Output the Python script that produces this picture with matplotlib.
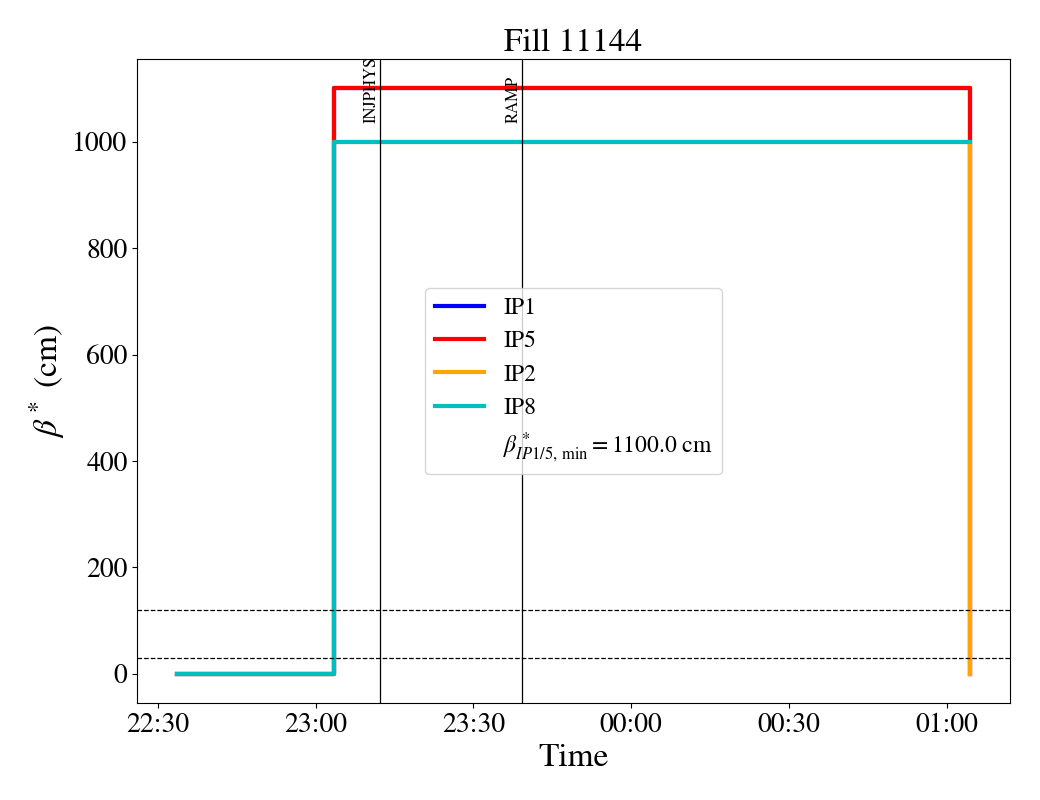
import datetime as dt
import matplotlib
matplotlib.use("Agg")
import matplotlib.pyplot as plt
import matplotlib.dates as mdates

plt.rcParams['font.family'] = 'STIXGeneral'
plt.rcParams['mathtext.fontset'] = 'stix'

fill = 11144
day = dt.datetime(2025, 9, 1)
times = [day + dt.timedelta(hours=22, minutes=33, seconds=40),
         day + dt.timedelta(hours=23, minutes=3, seconds=30),
         day + dt.timedelta(days=1, hours=1, minutes=4, seconds=25)]

ip1 = [0, 1100, 0]
ip5 = [0, 1100, 0]
ip2 = [0, 1000, 0]
ip8 = [0, 1000, 1000]

modes = ['INJPHYS', 'RAMP']
mode_times = [day + dt.timedelta(hours=23, minutes=12, seconds=10),
              day + dt.timedelta(hours=23, minutes=39, seconds=10)]

hlines = [30, 120]
beta_min = 1100.0

fig, ax = plt.subplots(figsize=(10.4, 8), dpi=100)
fig.subplots_adjust(left=0.132, right=0.971, top=0.926, bottom=0.121)

ax.step(times, ip1, where='post', color='blue', lw=3, label='IP1')
ax.step(times, ip5, where='post', color='red', lw=3, label='IP5')
ax.step(times, ip2, where='post', color='orange', lw=3, label='IP2')
ax.step(times, ip8, where='post', color='c', lw=3, label='IP8')
ax.plot([], [], ' ', label=r'$\beta^*_{IP1/5,\,\mathrm{min}} = %.1f\ \mathrm{cm}$' % beta_min)

for h in hlines:
    ax.axhline(h, color='black', lw=0.9, ls='--')

for name, t in zip(modes, mode_times):
    ax.axvline(t, color='black', lw=0.9)
    ax.text(t, 1035, name, rotation=90, ha='right', va='bottom', fontsize=12)

ax.xaxis.set_major_locator(mdates.MinuteLocator(byminute=[0, 30]))
ax.xaxis.set_major_formatter(mdates.DateFormatter('%H:%M'))
ax.tick_params(labelsize=20)

ax.set_xlabel('Time', fontsize=24)
ax.set_ylabel(r'$\beta^*$ (cm)', fontsize=24)
ax.set_title('Fill %d' % fill, fontsize=24)
ax.legend(loc='center', fontsize=17, handlelength=2.1, labelspacing=0.5)

fig.savefig('out.png')
